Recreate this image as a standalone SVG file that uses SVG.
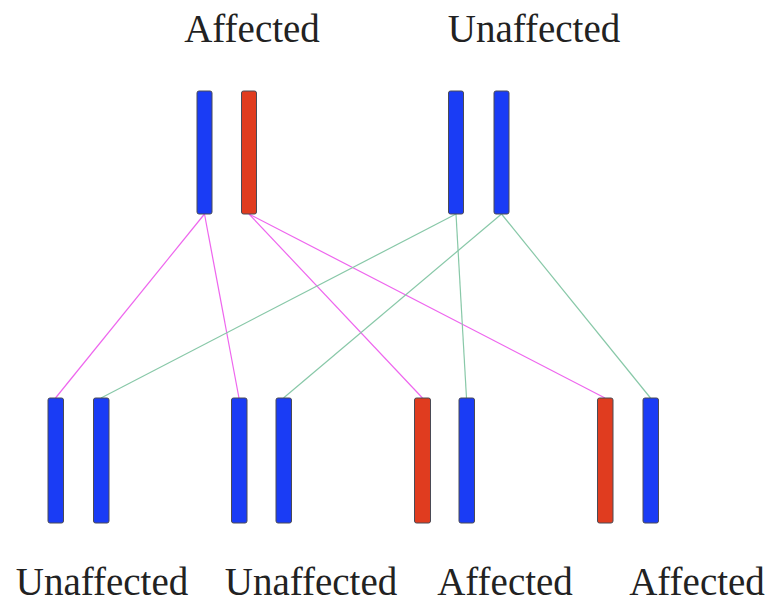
<svg xmlns="http://www.w3.org/2000/svg" width="772" height="605" viewBox="0 0 772 605">
  <style>
    .bar { stroke: #4a4a55; stroke-width: 1; }
    .blue { fill: #1a3cf5; }
    .red { fill: #e03c1f; }
    .pink { stroke: #ee66ee; stroke-width: 1.2; fill: none; }
    .green { stroke: #88c8a8; stroke-width: 1.2; fill: none; }
    .label { font-family: "Liberation Serif", "Times New Roman", serif; font-size: 39px; fill: #222; text-anchor: middle; }
  </style>
  <rect width="772" height="605" fill="#ffffff"/>

  <!-- inheritance links -->
  <g id="connectors">
    <line class="pink" x1="204.5" y1="214" x2="55.5" y2="398"/>
    <line class="pink" x1="204.5" y1="214" x2="239" y2="398"/>
    <line class="pink" x1="249" y1="214" x2="422.5" y2="398"/>
    <line class="pink" x1="249" y1="214" x2="605" y2="398"/>
    <line class="green" x1="456" y1="214" x2="101" y2="398"/>
    <line class="green" x1="456" y1="214" x2="466.5" y2="398"/>
    <line class="green" x1="501.5" y1="214" x2="283.5" y2="398"/>
    <line class="green" x1="501.5" y1="214" x2="650.5" y2="398"/>
  </g>

  <!-- parents -->
  <g id="parent-affected">
    <text class="label" x="252" y="42">Affected</text>
    <rect class="bar blue" x="197" y="91" width="15" height="123" rx="2"/>
    <rect class="bar red" x="241.5" y="91" width="15" height="123" rx="2"/>
  </g>
  <g id="parent-unaffected">
    <text class="label" x="534" y="42">Unaffected</text>
    <rect class="bar blue" x="448.5" y="91" width="15" height="123" rx="2"/>
    <rect class="bar blue" x="494" y="91" width="15" height="123" rx="2"/>
  </g>

  <!-- offspring -->
  <g id="child-1">
    <rect class="bar blue" x="48" y="398" width="15.5" height="125" rx="2"/>
    <rect class="bar blue" x="93.5" y="398" width="15.5" height="125" rx="2"/>
    <text class="label" x="102" y="595">Unaffected</text>
  </g>
  <g id="child-2">
    <rect class="bar blue" x="231.5" y="398" width="15.5" height="125" rx="2"/>
    <rect class="bar blue" x="276" y="398" width="15.5" height="125" rx="2"/>
    <text class="label" x="311" y="595">Unaffected</text>
  </g>
  <g id="child-3">
    <rect class="bar red" x="414.5" y="398" width="16" height="125" rx="2"/>
    <rect class="bar blue" x="459" y="398" width="15.5" height="125" rx="2"/>
    <text class="label" x="505" y="595">Affected</text>
  </g>
  <g id="child-4">
    <rect class="bar red" x="597.5" y="398" width="15.5" height="125" rx="2"/>
    <rect class="bar blue" x="643" y="398" width="15.5" height="125" rx="2"/>
    <text class="label" x="697" y="595">Affected</text>
  </g>
</svg>
